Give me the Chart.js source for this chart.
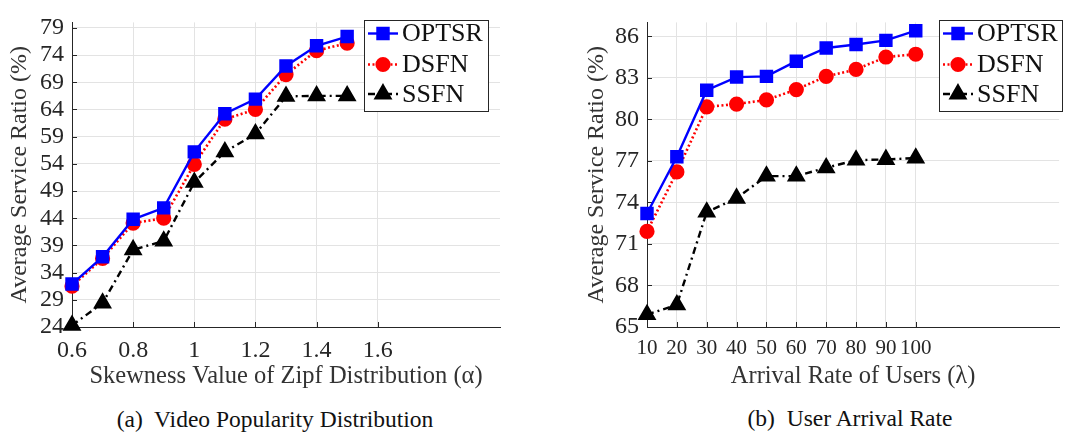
<!DOCTYPE html>
<html>
<head>
<meta charset="utf-8">
<script src="https://cdn.jsdelivr.net/npm/chart.js@4/dist/chart.umd.min.js"></script>
<style>
  body { margin: 0; background: #fff; width: 1070px; height: 437px; position: relative; overflow: hidden; }
  .box { position: absolute; top: 0; height: 395px; width: 530px; }
  .cap { position: absolute; font-family: "Liberation Serif", serif; font-size: 23.5px; color: #111; white-space: pre; transform: translate(-50%, -50%); }
</style>
</head>
<body>
<div class="box" style="left:0"><canvas id="chartA" width="530" height="395"></canvas></div>
<div class="box" style="left:540px"><canvas id="chartB" width="530" height="395"></canvas></div>
<div class="cap" style="left:275px; top:419px">(a)  Video Popularity Distribution</div>
<div class="cap" style="left:850px; top:418px">(b)  User Arrival Rate</div>
<script>
// ---- data (a) ----
var alphaVals = [0.6, 0.7, 0.8, 0.9, 1.0, 1.1, 1.2, 1.3, 1.4, 1.5];
var optsrA = [31.9, 36.9, 43.8, 45.9, 56.2, 63.2, 65.9, 72.0, 75.7, 77.4];
var dsfnA  = [31.5, 36.6, 43.1, 44.0, 53.9, 62.2, 64.0, 70.4, 74.8, 76.2];
var ssfnA  = [24.3, 28.4, 38.2, 39.8, 50.6, 56.2, 59.5, 66.4, 66.5, 66.5];
var xTicksA = [0.6, 0.8, 1.0, 1.2, 1.4, 1.6];
var yTicksA = [24, 29, 34, 39, 44, 49, 54, 59, 64, 69, 74, 79];

// ---- data (b) ----
var lambdaVals = [10, 20, 30, 40, 50, 60, 70, 80, 90, 100];
var optsrB = [73.2, 77.3, 82.1, 83.05, 83.1, 84.2, 85.15, 85.4, 85.7, 86.4];
var dsfnB  = [71.9, 76.2, 80.9, 81.1, 81.4, 82.15, 83.1, 83.6, 84.5, 84.7];
var ssfnB  = [65.9, 66.6, 73.3, 74.3, 75.9, 75.9, 76.5, 77.05, 77.1, 77.2];
var xTicksB = [10, 20, 30, 40, 50, 60, 70, 80, 90, 100];
var yTicksB = [65, 68, 71, 74, 77, 80, 83, 86];

var seriesNames = ['OPTSR', 'DSFN', 'SSFN'];

var FONT = '"Liberation Serif", "Times New Roman", serif';
var AXIS = '#262626';
var GRID = '#e3e3e3';

function pts(xs, ys) {
	var out = [];
	for (var i = 0; i < xs.length; i++) out.push({x: xs[i], y: ys[i]});
	return out;
}

function makeDatasets(xs, a, b, c) {
	return [
		{ label: seriesNames[0], data: pts(xs, a), borderColor: '#0000ff', backgroundColor: '#0000ff',
		  borderWidth: 2.4, pointStyle: 'rect', pointRadius: 7.8, pointHoverRadius: 7.8, clip: false },
		{ label: seriesNames[1], data: pts(xs, b), borderColor: '#ff0000', backgroundColor: '#ff0000',
		  borderWidth: 2.6, borderDash: [2, 2.5], pointStyle: 'circle', pointRadius: 6.3, pointHoverRadius: 6.3, clip: false },
		{ label: seriesNames[2], data: pts(xs, c), borderColor: '#000000', backgroundColor: '#000000',
		  borderWidth: 2.4, borderDash: [7, 4, 2, 4], pointStyle: 'triangle', pointRadius: 8.5, pointHoverRadius: 8.5, clip: false }
	];
}

// inward tick marks, MATLAB style
var innerTicks = {
	id: 'innerTicks',
	beforeDatasetsDraw: function(chart) {
		var ctx = chart.ctx, area = chart.chartArea;
		var xs = chart.scales.x, ys = chart.scales.y;
		ctx.save();
		ctx.strokeStyle = AXIS;
		ctx.lineWidth = 1;
		ctx.beginPath();
		xs.ticks.forEach(function(t) {
			var px = Math.round(xs.getPixelForValue(t.value)) + 0.5;
			ctx.moveTo(px, area.bottom);
			ctx.lineTo(px, area.bottom - 5);
		});
		ys.ticks.forEach(function(t) {
			var py = Math.round(ys.getPixelForValue(t.value)) + 0.5;
			ctx.moveTo(area.left, py);
			ctx.lineTo(area.left + 5, py);
		});
		ctx.stroke();
		ctx.restore();
	}
};

// boxed legend inside the plot
var boxLegend = {
	id: 'boxLegend',
	afterDraw: function(chart, args, opts) {
		var ctx = chart.ctx;
		var bx = opts.x, by = opts.y, bw = opts.w, bh = opts.h;
		ctx.save();
		ctx.fillStyle = '#fff';
		ctx.fillRect(bx, by, bw, bh);
		ctx.strokeStyle = AXIS;
		ctx.lineWidth = 1;
		ctx.strokeRect(bx + 0.5, by + 0.5, bw, bh);
		var rows = [13.5, 44.5, 74];
		chart.data.datasets.forEach(function(ds, i) {
			var cy = by + rows[i];
			ctx.strokeStyle = ds.borderColor;
			ctx.lineWidth = ds.borderWidth;
			ctx.setLineDash(ds.borderDash || []);
			ctx.beginPath();
			ctx.moveTo(bx + 4, cy);
			ctx.lineTo(bx + 34, cy);
			ctx.stroke();
			ctx.setLineDash([]);
			Chart.helpers.drawPoint(ctx, {
				pointStyle: ds.pointStyle, radius: ds.pointRadius, borderWidth: 1, rotation: 0
			}, bx + 19, cy);
			ctx.fillStyle = ds.backgroundColor;
			ctx.fill();
			ctx.fillStyle = '#111';
			ctx.font = '26px ' + FONT;
			ctx.textBaseline = 'middle';
			ctx.fillText(ds.label, bx + 38, cy + 1);
		});
		ctx.restore();
	}
};

function fmt(v) { return String(+Number(v).toFixed(1)); }

function makeChart(id, xs, a, b, c, cfg) {
	return new Chart(document.getElementById(id), {
		type: 'line',
		data: { datasets: makeDatasets(xs, a, b, c) },
		plugins: [innerTicks, boxLegend],
		options: {
			responsive: false,
			animation: false,
			layout: { padding: { top: 7, right: cfg.padRight, left: 0, bottom: 0 } },
			plugins: {
				legend: { display: false },
				tooltip: { enabled: false },
				boxLegend: cfg.legend
			},
			scales: {
				x: {
					type: 'linear',
					min: cfg.xMin, max: cfg.xMax,
					afterBuildTicks: function(s) { s.ticks = cfg.xTicks.map(function(v) { return {value: v}; }); },
					afterFit: function(s) { s.height = 68; },
					grid: { color: GRID, drawTicks: false },
					border: { color: AXIS, width: 1 },
					ticks: { color: AXIS, font: { family: FONT, size: cfg.xTickSize }, padding: 9, maxRotation: 0, autoSkip: false, callback: fmt },
					title: { display: true, text: cfg.xTitle, color: '#333', font: { family: FONT, size: 24.5 }, padding: { top: 4.5 } }
				},
				y: {
					min: cfg.yMin, max: cfg.yMax,
					afterBuildTicks: function(s) { s.ticks = cfg.yTicks.map(function(v) { return {value: v}; }); },
					afterFit: function(s) { s.width = cfg.yWidth; },
					grid: { color: GRID, drawTicks: false },
					border: { color: AXIS, width: 1 },
					ticks: { color: AXIS, font: { family: FONT, size: 24 }, padding: 8, autoSkip: false, callback: fmt },
					title: { display: true, text: 'Average Service Ratio (%)', color: '#333', font: { family: FONT, size: 24 }, padding: { top: cfg.yTitlePad } }
				}
			}
		}
	});
}

makeChart('chartA', alphaVals, optsrA, dsfnA, ssfnA, {
	xMin: 0.6, xMax: 2.0, yMin: 24, yMax: 80,
	xTicks: xTicksA, yTicks: yTicksA, xTickSize: 24,
	xTitle: 'Skewness Value of Zipf Distribution (\u03b1)',
	padRight: 30, yWidth: 72, yTitlePad: 5,
	legend: { x: 364, y: 20, w: 124, h: 91 }
});

makeChart('chartB', lambdaVals, optsrB, dsfnB, ssfnB, {
	xMin: 10, xMax: 148, yMin: 65, yMax: 87,
	xTicks: xTicksB, yTicks: yTicksB, xTickSize: 21,
	xTitle: 'Arrival Rate of Users (\u03bb)',
	padRight: 0, yWidth: 107, yTitlePad: 42,
	legend: { x: 399, y: 20, w: 123, h: 91 }
});
</script>
</body>
</html>
